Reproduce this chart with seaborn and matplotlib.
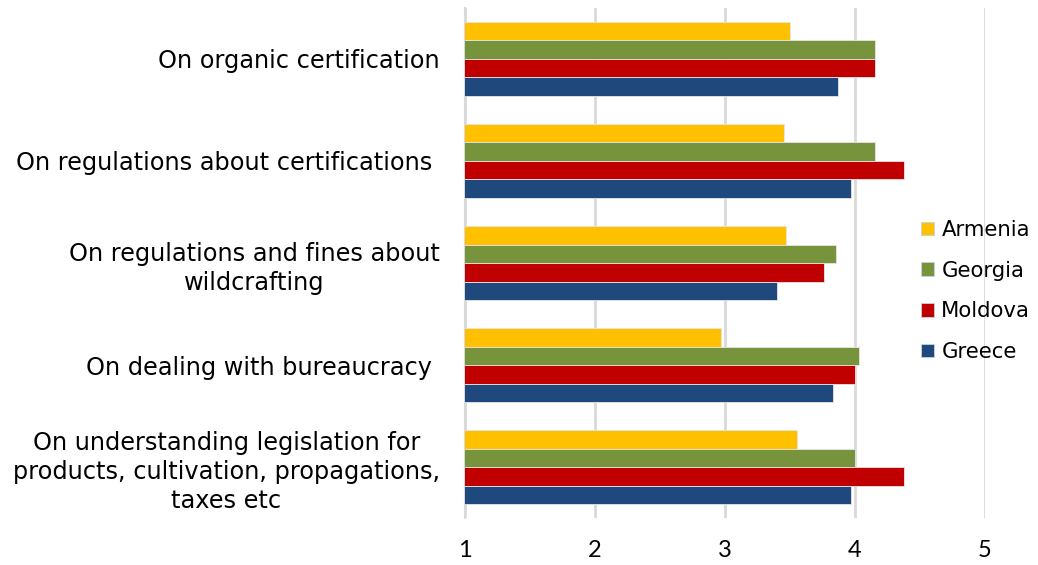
import pandas as pd
import matplotlib.pyplot as plt
import seaborn as sns
from matplotlib.patches import Patch

# Datos (puntuacion media 1-5)
categories = [
    "On organic certification",
    "On regulations about certifications ",
    "On regulations and fines about\nwildcrafting",
    "On dealing with bureaucracy ",
    "On understanding legislation for\nproducts, cultivation, propagations,\ntaxes etc",
]
countries = ["Armenia", "Georgia", "Moldova", "Greece"]
armenia = [3.50, 3.45, 3.47, 2.97, 3.55]
georgia = [4.15, 4.15, 3.85, 4.03, 4.00]
moldova = [4.15, 4.38, 3.76, 4.00, 4.38]
greece = [3.87, 3.97, 3.40, 3.83, 3.97]
colors = ["#FFC000", "#77933C", "#C00000", "#1F497D"]
x_ticks = [1, 2, 3, 4, 5]

rows = []
for country, vals in zip(countries, [armenia, georgia, moldova, greece]):
    for cat, v in zip(categories, vals):
        rows.append({"Category": cat, "Country": country, "Score": v})
df = pd.DataFrame(rows)

sns.set_style("white")
plt.rcParams["font.family"] = ["DejaVu Sans"]
plt.rcParams["text.color"] = "black"
plt.rcParams["xtick.color"] = "black"
plt.rcParams["ytick.color"] = "black"

fig = plt.figure(figsize=(10.38, 5.65), dpi=100)
ax = fig.add_axes([0.448, 0.083, 0.501, 0.903])

sns.barplot(data=df, y="Category", x="Score", hue="Country",
            order=categories, hue_order=countries, palette=colors,
            saturation=1, width=0.725, edgecolor="#e6e6e6", linewidth=0.6,
            ax=ax, legend=False, zorder=3)

ax.set_xlim(1, 5)
ax.set_xticks(x_ticks, labels=[str(t) for t in x_ticks],
              fontsize=17, fontfamily="Lato")
ax.set_xlabel("")
ax.set_ylabel("")
ax.grid(axis="x", color="#d9d9d9", linewidth=2, zorder=0)
ax.set_axisbelow(True)
for side in ["top", "right", "bottom"]:
    ax.spines[side].set_visible(False)
ax.spines["left"].set_color("#d9d9d9")
ax.spines["left"].set_linewidth(1.5)
ax.tick_params(axis="x", length=0, pad=16)
ax.tick_params(axis="y", length=0, pad=18, labelsize=17.3)
for lbl in ax.get_yticklabels():
    lbl.set_multialignment("center")
    lbl.set_linespacing(1.27)

handles = [Patch(facecolor=c, edgecolor="#c8d3e0", linewidth=0.6) for c in colors]
fig.legend(handles, countries, loc="center left", bbox_to_anchor=(0.869, 0.485),
           frameon=False, fontsize=15.3, handlelength=0.6, handleheight=0.6,
           handletextpad=0.35, labelspacing=0.98)

plt.savefig("out.png", dpi=100)
